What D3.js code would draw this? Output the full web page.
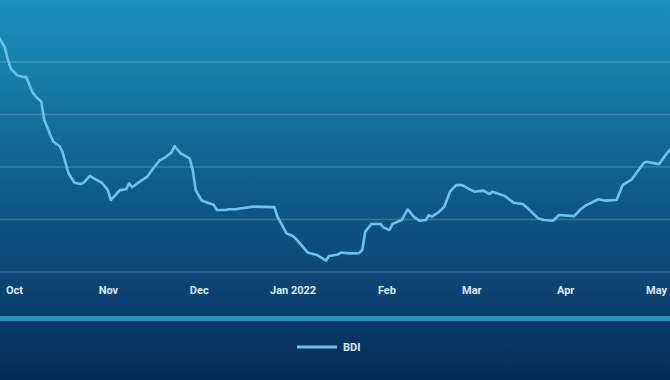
<!DOCTYPE html>
<html>
<head>
<meta charset="utf-8">
<script src="https://cdn.jsdelivr.net/npm/d3@7"></script>
<style>
  html, body { margin: 0; padding: 0; background: #0b3f6c; }
  svg { display: block; }
  .axis text { fill: #dfeaf3; font-family: Roboto, "DejaVu Sans", sans-serif; font-size: 11px; font-weight: 700; }
  .grid line { stroke: #ffffff; stroke-opacity: 0.18; stroke-width: 1.5; }
  .line { fill: none; stroke: #6cc2ea; stroke-width: 2.6; stroke-linejoin: round; }
</style>
</head>
<body>
<svg id="chart" width="670" height="380"></svg>
<script>
// BDI daily points
var dates = [
  "2021-09-26", "2021-09-28", "2021-09-29", "2021-09-30", "2021-10-02", "2021-10-04", "2021-10-05",
  "2021-10-07", "2021-10-08", "2021-10-10", "2021-10-11", "2021-10-13", "2021-10-14", "2021-10-16",
  "2021-10-17", "2021-10-19", "2021-10-21", "2021-10-23", "2021-10-24", "2021-10-26", "2021-10-28",
  "2021-10-30", "2021-11-01", "2021-11-02", "2021-11-04", "2021-11-05", "2021-11-07", "2021-11-08",
  "2021-11-09", "2021-11-12", "2021-11-14", "2021-11-16", "2021-11-18", "2021-11-20", "2021-11-22",
  "2021-11-23", "2021-11-25", "2021-11-28", "2021-11-29", "2021-11-30", "2021-12-02", "2021-12-04",
  "2021-12-06", "2021-12-07", "2021-12-10", "2021-12-11", "2021-12-13", "2021-12-19", "2021-12-26",
  "2021-12-27", "2021-12-30", "2022-01-01", "2022-01-02", "2022-01-06", "2022-01-09", "2022-01-10",
  "2022-01-12", "2022-01-13", "2022-01-16", "2022-01-17", "2022-01-20", "2022-01-23", "2022-01-24",
  "2022-01-25", "2022-01-27", "2022-01-30", "2022-01-31", "2022-02-02", "2022-02-03", "2022-02-06",
  "2022-02-08", "2022-02-10", "2022-02-12", "2022-02-14", "2022-02-15", "2022-02-16", "2022-02-18",
  "2022-02-20", "2022-02-22", "2022-02-24", "2022-02-26", "2022-03-01", "2022-03-02", "2022-03-05",
  "2022-03-07", "2022-03-08", "2022-03-12", "2022-03-15", "2022-03-18", "2022-03-20", "2022-03-23",
  "2022-03-25", "2022-03-28", "2022-03-30", "2022-04-04", "2022-04-06", "2022-04-08", "2022-04-12",
  "2022-04-14", "2022-04-18", "2022-04-20", "2022-04-23", "2022-04-27", "2022-04-28", "2022-05-02",
  "2022-05-05", "2022-05-06", "2022-05-08"
];
var bdi = [
  5480, 5270, 5040, 4870, 4750, 4715, 4720,
  4435, 4355, 4245, 3895, 3610, 3480, 3400,
  3290, 2880, 2700, 2675, 2700, 2830, 2765,
  2700, 2560, 2370, 2500, 2560, 2575, 2690,
  2615, 2740, 2815, 2975, 3120, 3185, 3275,
  3400, 3260, 3165, 2945, 2560, 2360, 2320,
  2275, 2180, 2180, 2195, 2195, 2245, 2235,
  2055, 1735, 1685, 1640, 1370, 1325, 1290,
  1215, 1305, 1335, 1370, 1355, 1360, 1420,
  1770, 1915, 1915, 1850, 1800, 1915, 1990,
  2195, 2055, 1975, 1990, 2085, 2055, 2130,
  2235, 2530, 2655, 2655, 2560, 2530, 2550,
  2485, 2530, 2450, 2320, 2295, 2195, 2025,
  1990, 1975, 2085, 2065, 2190, 2275, 2385,
  2360, 2370, 2655, 2765, 3080, 3100, 3055,
  3290, 3355, 3480
];
var gridValues = [1000, 2000, 3000, 4000, 5000];
var seriesName = "BDI";

var parseDate = d3.timeParse("%Y-%m-%d");
var data = dates.map(function(d, i) {
    return { date: parseDate(d), value: bdi[i] };
});

var svg = d3.select("#chart"),
    width = +svg.attr("width"),
    height = +svg.attr("height");

// background gradient
var defs = svg.append("defs");
var grad = defs.append("linearGradient")
    .attr("id", "bg")
    .attr("x1", 0).attr("y1", 0)
    .attr("x2", 0).attr("y2", 1);
[["0%", "#1b91bd"], ["28%", "#15739f"], ["55%", "#0f5686"], ["76%", "#0b4373"], ["100%", "#062b54"]]
    .forEach(function(s) {
        grad.append("stop").attr("offset", s[0]).attr("stop-color", s[1]);
    });
svg.append("rect")
    .attr("width", width)
    .attr("height", height)
    .attr("fill", "url(#bg)");

var x = d3.scaleTime()
    .domain([parseDate("2021-10-01"), parseDate("2022-05-01")])
    .range([14, 656]);
var y = d3.scaleLinear()
    .domain([1000, 5000])
    .range([272, 62]);

// gridlines
svg.append("g")
    .attr("class", "grid")
    .selectAll("line")
    .data(gridValues)
    .enter().append("line")
    .attr("x1", 0)
    .attr("x2", width)
    .attr("y1", function(d) { return y(d); })
    .attr("y2", function(d) { return y(d); });

// x axis
var xAxis = svg.append("g")
    .attr("class", "axis")
    .attr("transform", "translate(0," + y(1000) + ")")
    .call(d3.axisBottom(x)
        .ticks(d3.timeMonth.every(1))
        .tickSize(0)
        .tickPadding(14)
        .tickFormat(function(d) {
            return d.getMonth() === 0 ? d3.timeFormat("%b %Y")(d) : d3.timeFormat("%b")(d);
        }));
xAxis.select(".domain").remove();
xAxis.selectAll("text").attr("fill", "#dfeaf3");

// line
var line = d3.line()
    .x(function(d) { return x(d.date); })
    .y(function(d) { return y(d.value); })
    .curve(d3.curveLinear);

svg.append("path")
    .datum(data)
    .attr("class", "line")
    .attr("d", line);

// separator band above legend
svg.append("rect")
    .attr("x", 0)
    .attr("y", 316)
    .attr("width", width)
    .attr("height", 5)
    .attr("fill", "#2b8fc3");

// legend
var legend = svg.append("g")
    .attr("transform", "translate(297,347)");
legend.append("line")
    .attr("x1", 0).attr("x2", 40)
    .attr("stroke", "#6cc2ea")
    .attr("stroke-width", 3);
legend.append("text")
    .attr("x", 46)
    .attr("dy", "0.35em")
    .attr("fill", "#dfeaf3")
    .style("font-family", "Roboto, 'DejaVu Sans', sans-serif")
    .style("font-size", "11px")
    .style("font-weight", 700)
    .text(seriesName);
</script>
</body>
</html>
